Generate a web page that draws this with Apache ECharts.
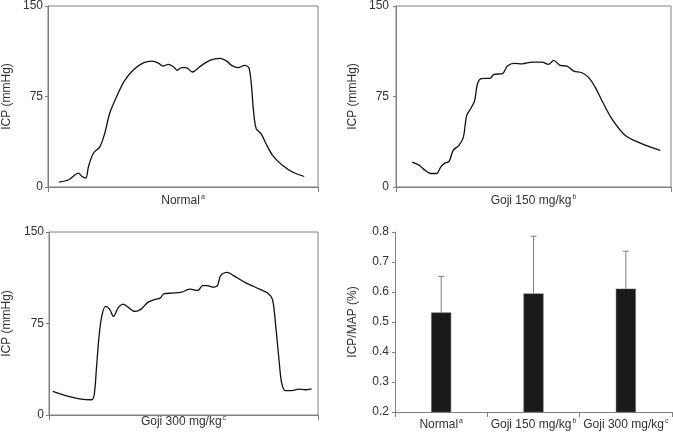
<!DOCTYPE html>
<html>
<head>
<meta charset="utf-8">
<script src="https://cdn.jsdelivr.net/npm/echarts@6/dist/echarts.min.js"></script>
<style>
  html, body { margin: 0; padding: 0; background: #fff; }
  #chart { width: 673px; height: 433px; }
</style>
</head>
<body>
<div id="chart"></div>
<script>
var myChart = echarts.init(document.getElementById('chart'));

// ICP traces, x = time as % of recording, y = ICP (mmHg)
var normalTrace = [
  [4.1, 4], [7.7, 6], [11.3, 11.5], [12.6, 8.7], [14.0, 7.4], [15.0, 17], [16.8, 28],
  [19.2, 33.3], [21.0, 44.3], [22.8, 60.7], [25.3, 74.3], [28.3, 88], [31.9, 97.5],
  [35.5, 103], [38.5, 104.3], [40.9, 102.7], [42.5, 100.2], [44.6, 101.6], [46.4, 99.7],
  [47.9, 96.7], [49.4, 98.9], [51.1, 98.9], [53.5, 95.3], [56.5, 100.2], [60.1, 105.1],
  [63.8, 106.6], [66.2, 104.3], [68.0, 100.8], [70.4, 98.9], [72.8, 100.8], [74.4, 98.9],
  [75.3, 85.2], [76.1, 63.4], [77.1, 48.4], [78.9, 44.3], [80.7, 36.1], [83.1, 26.5],
  [86.7, 18.3], [90.9, 12], [94.9, 8.7]
];
var goji150Trace = [
  [5.9, 20.7], [8.4, 18.1], [10.8, 13.4], [12.6, 11.2], [14.8, 11.2], [16.3, 16.7],
  [17.5, 19.4], [19.3, 21.3], [20.8, 30.4], [22.9, 34.5], [24.5, 41.3], [25.7, 59.2],
  [27.4, 65.9], [28.6, 71.5], [29.6, 85.2], [31.0, 89.8], [34.2, 90.1], [35.6, 93.4],
  [38.7, 93.9], [40.5, 100.2], [42.9, 102.4], [45.9, 102.1], [49.5, 103.5], [53.1, 103.5],
  [55.5, 101.6], [57.3, 104.9], [59.7, 100.8], [62.2, 100.2], [64.6, 96.1], [67.6, 94.7],
  [70.1, 90.6], [72.5, 82.4], [74.9, 71.5], [78.5, 56.4], [83.4, 42.7], [89.5, 35.8],
  [96.1, 30.4]
];
var goji300Trace = [
  [1.4, 19.3], [6.5, 15.7], [11.3, 13.3], [15.8, 12.5], [16.8, 16.6], [17.6, 37.1],
  [18.6, 64.4], [19.6, 80.8], [21.0, 89], [22.5, 86.8], [24.0, 80.8], [25.8, 88.2],
  [27.6, 90.9], [29.5, 88.2], [31.9, 84.9], [34.3, 86.8], [36.7, 92.3], [39.1, 94.5],
  [41.3, 95.8], [42.8, 99.4], [45.8, 99.9], [49.3, 100.7], [52.3, 103.2], [55.3, 102.1],
  [57.1, 106], [58.9, 106], [60.8, 104.8], [62.6, 106], [63.8, 114.2], [66.2, 116.9],
  [68.6, 114.2], [73.4, 108.1], [78.3, 103.2], [81.3, 99.9], [83.1, 94.5], [84.3, 72.6],
  [85.5, 45.3], [86.5, 26.1], [87.9, 19.9], [90.3, 19.9], [92.8, 21.2], [95.2, 20.7],
  [97.6, 21.5]
];

// ICP/MAP bar panel
var groups = ['Normal', 'Goji 150 mg/kg', 'Goji 300 mg/kg'];
var marks = ['a', 'b', 'c'];
var ratioMean = [0.532, 0.595, 0.611];
var ratioUpper = [0.652, 0.786, 0.736];

var font = 'Liberation Sans, Arial, sans-serif';
var axisGray = '#808080';
var textColor = '#333';

var nameRich = {
  n: { fontSize: 12, color: textColor, fontFamily: font, lineHeight: 14 },
  s: { fontSize: 7, color: textColor, fontFamily: font, verticalAlign: 'top', lineHeight: 14, padding: [0, 0, 8, 1] }
};

function traceX(idx, label, gap) {
  return {
    gridIndex: idx, type: 'value', min: 0, max: 100, interval: 100,
    name: label, nameLocation: 'middle', nameGap: gap,
    nameTextStyle: { rich: nameRich },
    axisLine: { lineStyle: { color: axisGray } },
    axisTick: { show: true, length: 5, lineStyle: { color: axisGray } },
    axisLabel: { show: false },
    splitLine: { show: false }
  };
}

function traceY(idx, margin, gap) {
  return {
    gridIndex: idx, type: 'value', min: 0, max: 150, interval: 75,
    name: 'ICP (mmHg)', nameLocation: 'middle', nameGap: gap,
    nameTextStyle: { fontSize: 12, color: textColor, fontFamily: font },
    axisLine: { show: true, lineStyle: { color: axisGray } },
    axisTick: { show: true, length: 3, lineStyle: { color: axisGray } },
    axisLabel: { margin: margin, fontSize: 12, color: textColor, fontFamily: font },
    splitLine: { show: false }
  };
}

function trace(idx, data) {
  return {
    type: 'line', xAxisIndex: idx, yAxisIndex: idx, data: data,
    smooth: 0.3, showSymbol: false, silent: true,
    lineStyle: { color: '#111', width: 1.3 }
  };
}

var option = {
  backgroundColor: '#fff',
  animation: false,
  grid: [
    { left: 42, top: 4, width: 276, height: 183, show: true, borderColor: axisGray, borderWidth: 1 },
    { left: 396, top: 4, width: 275, height: 183, show: true, borderColor: axisGray, borderWidth: 1 },
    { left: 42, top: 232, width: 276, height: 183, show: true, borderColor: axisGray, borderWidth: 1 },
    { left: 395, top: 232, width: 277, height: 183 }
  ],
  xAxis: [
    traceX(0, '{n|Normal}{s|a}', 7),
    traceX(1, '{n|Goji 150 mg/kg}{s|b}', 7),
    traceX(2, '{n|Goji 300 mg/kg}{s|c}', 0),
    {
      gridIndex: 3, type: 'category', data: groups,
      axisLine: { lineStyle: { color: axisGray } },
      axisTick: { show: true, length: 5, lineStyle: { color: axisGray } },
      axisLabel: {
        margin: 6, interval: 0, hideOverlap: false,
        formatter: function (v, i) { return '{n|' + v + '}{s|' + marks[i] + '}'; },
        rich: nameRich
      }
    }
  ],
  yAxis: [
    traceY(0, 5, 35),
    traceY(1, 7, 37),
    traceY(2, 5, 36),
    {
      gridIndex: 3, type: 'value', min: 0.2, max: 0.8, interval: 0.1,
      name: 'ICP/MAP (%)', nameLocation: 'middle', nameGap: 36,
      nameTextStyle: { fontSize: 12, color: textColor, fontFamily: font },
      axisLine: { show: true, lineStyle: { color: axisGray } },
      axisTick: { show: true, length: 3, lineStyle: { color: axisGray } },
      axisLabel: {
        margin: 6, fontSize: 12, color: textColor, fontFamily: font,
        formatter: function (v) { return v.toFixed(1); }
      },
      splitLine: { show: false }
    }
  ],
  series: [
    trace(0, normalTrace),
    trace(1, goji150Trace),
    trace(2, goji300Trace),
    {
      type: 'bar', xAxisIndex: 3, yAxisIndex: 3, data: ratioMean,
      barWidth: 20, silent: true,
      itemStyle: { color: '#1a1a1a', borderColor: '#666', borderWidth: 0.5 }
    },
    {
      type: 'custom', xAxisIndex: 3, yAxisIndex: 3, silent: true,
      data: ratioMean.map(function (m, i) { return [i, m, ratioUpper[i]]; }),
      renderItem: function (params, api) {
        var low = api.coord([api.value(0), api.value(1)]);
        var high = api.coord([api.value(0), api.value(2)]);
        var st = { stroke: axisGray, lineWidth: 1 };
        return {
          type: 'group',
          children: [
            { type: 'line', shape: { x1: high[0], y1: low[1], x2: high[0], y2: high[1] }, style: st },
            { type: 'line', shape: { x1: high[0] - 3, y1: high[1], x2: high[0] + 3, y2: high[1] }, style: st }
          ]
        };
      },
      z: 1
    }
  ]
};

myChart.setOption(option);
</script>
</body>
</html>
